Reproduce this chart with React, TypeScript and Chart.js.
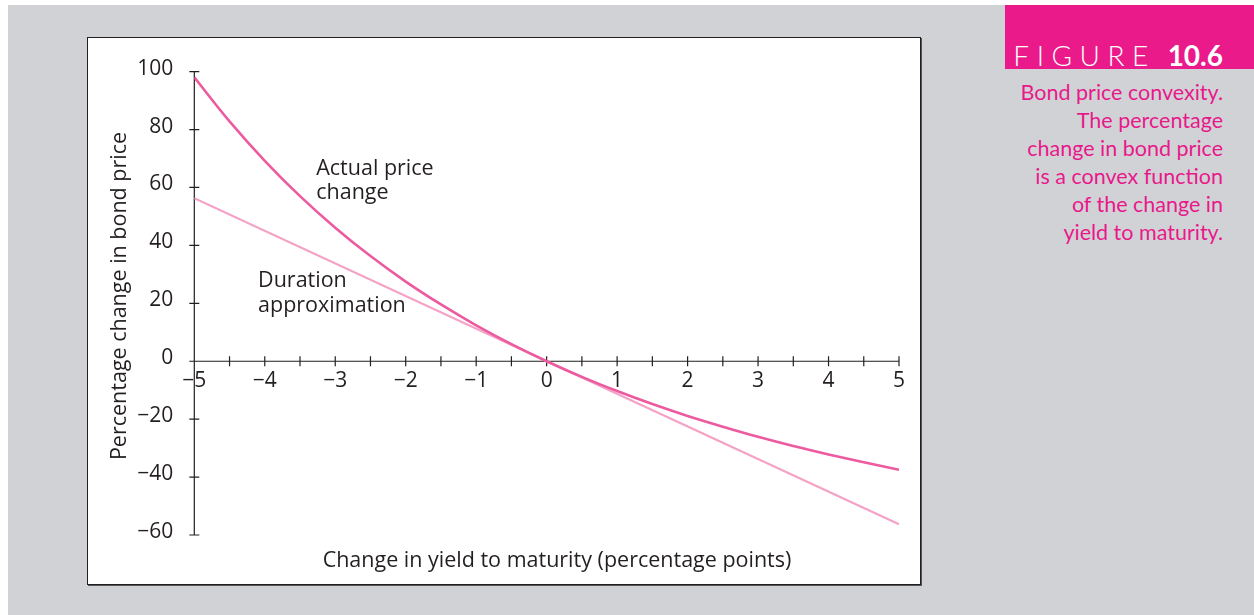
import React, { useEffect, useRef } from "react";
import { Chart, registerables } from "chart.js";

Chart.register(...registerables);

// Change in yield to maturity (percentage points)
const yieldChanges = [-5, -4.5, -4, -3.5, -3, -2.5, -2, -1.5, -1, -0.5, 0, 0.5, 1, 1.5, 2, 2.5, 3, 3.5, 4, 4.5, 5];
// Actual percentage change in bond price
const actualChange = [98.0, 82.8, 69.2, 57.0, 46.1, 36.3, 27.5, 19.6, 12.4, 5.9, 0, -5.4, -10.3, -14.8, -18.9, -22.6, -26.1, -29.3, -32.2, -34.9, -37.5];
// Duration approximation (straight line)
const durationX = [-5, 0, 5];
const durationApprox = [56.3, 0, -56.3];

const yTicks = [-60, -40, -20, 0, 20, 40, 60, 80, 100];
const xTickLabels = [-5, -4, -3, -2, -1, 0, 1, 2, 3, 4, 5];

const xTitle = "Change in yield to maturity (percentage points)";
const yTitle = "Percentage change in bond price";
const actualLabel = ["Actual price", "change"];
const durationLabel = ["Duration", "approximation"];
const captionLines = [
  "Bond price convexity.",
  "The percentage",
  "change in bond price",
  "is a convex function",
  "of the change in",
  "yield to maturity.",
];

const FONT = "'Open Sans', 'Noto Sans', sans-serif";
const TEXT = "#231f20";
const fmt = (v: number) => (v < 0 ? "\u2212" + Math.abs(v) : String(v));

const axesPlugin = {
  id: "crossAxes",
  beforeDatasetsDraw(chart: any) {
    const { ctx, scales } = chart;
    const xs = scales.x;
    const ys = scales.y;
    const y0 = ys.getPixelForValue(0);
    const xL = xs.getPixelForValue(-5);
    const xR = xs.getPixelForValue(5);
    const yT = ys.getPixelForValue(100);
    const yB = ys.getPixelForValue(-60);
    ctx.save();
    ctx.strokeStyle = "#231f20";
    ctx.lineWidth = 1.2;
    ctx.beginPath();
    ctx.moveTo(xL - 4, y0);
    ctx.lineTo(xR, y0);
    ctx.moveTo(xL, yT);
    ctx.lineTo(xL, yB);
    for (let v = -5; v <= 5.0001; v += 0.5) {
      const px = xs.getPixelForValue(v);
      ctx.moveTo(px, y0 - 5);
      ctx.lineTo(px, y0 + 5);
    }
    for (const v of yTicks) {
      const py = ys.getPixelForValue(v);
      ctx.moveTo(xL - 5, py);
      ctx.lineTo(xL + 5, py);
    }
    ctx.stroke();
    ctx.restore();
  },
  afterDraw(chart: any) {
    const { ctx, scales } = chart;
    const xs = scales.x;
    const ys = scales.y;
    ctx.save();
    ctx.fillStyle = TEXT;
    ctx.font = `21.5px ${FONT}`;
    ctx.textAlign = "left";
    ctx.textBaseline = "middle";
    ctx.fillText(actualLabel[0], xs.getPixelForValue(-3.27), ys.getPixelForValue(66.4));
    ctx.fillText(actualLabel[1], xs.getPixelForValue(-3.27), ys.getPixelForValue(58.2));
    ctx.fillText(durationLabel[0], xs.getPixelForValue(-4.095), ys.getPixelForValue(27.6));
    ctx.fillText(durationLabel[1], xs.getPixelForValue(-4.095), ys.getPixelForValue(19.0));
    ctx.restore();
  },
};

export default function App() {
  const ref = useRef<HTMLCanvasElement | null>(null);

  useEffect(() => {
    if (!ref.current) return;
    const chart = new Chart(ref.current, {
      type: "line",
      data: {
        datasets: [
          {
            label: "Actual price change",
            data: yieldChanges.map((x, i) => ({ x, y: actualChange[i] })),
            borderColor: "#ec5a9f",
            borderWidth: 2.6,
            pointRadius: 0,
            cubicInterpolationMode: "monotone",
            fill: false,
          },
          {
            label: "Duration approximation",
            data: durationX.map((x, i) => ({ x, y: durationApprox[i] })),
            borderColor: "#f4a2c6",
            borderWidth: 2.2,
            pointRadius: 0,
            fill: false,
          },
        ],
      },
      options: {
        animation: false,
        responsive: false,
        maintainAspectRatio: false,
        devicePixelRatio: 1,
        layout: { padding: { left: 0, top: 31, right: 21, bottom: 49 } },
        plugins: { legend: { display: false }, tooltip: { enabled: false }, title: { display: false } },
        scales: {
          x: {
            type: "linear",
            min: -5,
            max: 5,
            position: { y: 0 } as any,
            grid: { display: false, drawTicks: false },
            border: { display: false },
            ticks: {
              stepSize: 0.5,
              autoSkip: false,
              maxRotation: 0,
              padding: 7,
              color: TEXT,
              font: { family: FONT, size: 21 },
              callback: (v: any) => (xTickLabels.includes(Number(v)) ? fmt(Number(v)) : ""),
            },
          },
          y: {
            type: "linear",
            min: -60,
            max: 100,
            position: "left",
            afterFit: (s: any) => {
              s.width = 106.3;
            },
            grid: { display: false, drawTicks: false },
            border: { display: false },
            ticks: {
              stepSize: 20,
              padding: 21,
              labelOffset: -3,
              color: TEXT,
              font: { family: FONT, size: 21 },
              callback: (v: any) => fmt(Number(v)),
            },
          },
        },
      },
      plugins: [axesPlugin],
    });
    return () => chart.destroy();
  }, []);

  return (
    <div style={{ position: "absolute", left: 0, top: 0, width: 1254, height: 615, overflow: "hidden" }}>
      <div style={{ position: "absolute", left: 8, top: 5, width: 1246, height: 610, background: "#d1d2d6" }} />
      <div
        style={{
          position: "absolute",
          left: 87,
          top: 37,
          width: 832,
          height: 546,
          background: "#ffffff",
          border: "1px solid #231f20",
          boxShadow: "1px 1px 0 #555",
        }}
      />
      <canvas ref={ref} width={832} height={546} style={{ position: "absolute", left: 88, top: 38, width: 832, height: 546 }} />
      <div
        style={{
          position: "absolute",
          left: 117 - 250,
          top: 296 - 14,
          width: 500,
          height: 28,
          lineHeight: "28px",
          textAlign: "center",
          transform: "rotate(-90deg)",
          font: `21.5px ${FONT}`,
          color: TEXT,
          whiteSpace: "nowrap",
        }}
      >
        {yTitle}
      </div>
      <div
        style={{
          position: "absolute",
          left: 557 - 300,
          top: 558 - 14,
          width: 600,
          height: 28,
          lineHeight: "28px",
          textAlign: "center",
          font: `21.5px ${FONT}`,
          color: TEXT,
          whiteSpace: "nowrap",
        }}
      >
        {xTitle}
      </div>
      <div style={{ position: "absolute", left: 1005, top: 5, width: 249, height: 64, background: "#ea1a8a" }} />
      <div
        style={{
          position: "absolute",
          left: 960,
          top: 38,
          width: 263,
          height: 34,
          lineHeight: "34px",
          textAlign: "right",
          color: "#ffffff",
          fontFamily: "Lato, sans-serif",
          fontSize: 28,
          whiteSpace: "nowrap",
        }}
      >
        <span style={{ letterSpacing: 7.5, fontWeight: 300 }}>FIGURE</span>
        <span style={{ fontWeight: 700, marginLeft: 12 }}>10.6</span>
      </div>
      <div
        style={{
          position: "absolute",
          left: 960,
          top: 78,
          width: 263,
          textAlign: "right",
          color: "#e8198b",
          fontFamily: "Lato, sans-serif",
          fontSize: 21.5,
          lineHeight: "28px",
        }}
      >
        {captionLines.map((l, i) => (
          <div key={i} style={{ whiteSpace: "nowrap" }}>
            {l}
          </div>
        ))}
      </div>
    </div>
  );
}
